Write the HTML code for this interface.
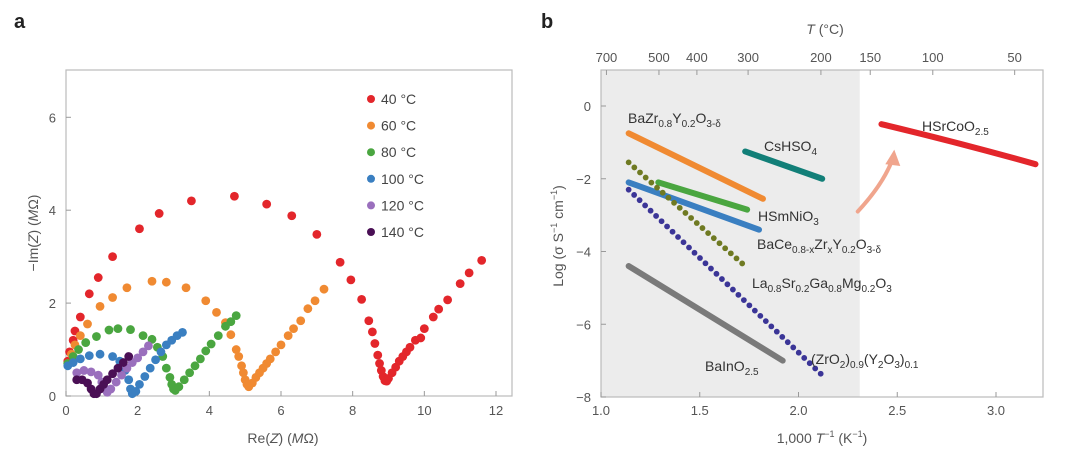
<!DOCTYPE html>
<html><head><meta charset="utf-8"><style>
html,body{margin:0;padding:0;background:#fff;}
svg{display:block;font-family:"Liberation Sans",sans-serif;}
</style></head><body>
<svg id="fig" width="1067" height="460" viewBox="0 0 1067 460">
<text x="14" y="28" font-size="20" font-weight="bold" fill="#222">a</text>
<text x="541" y="28" font-size="20" font-weight="bold" fill="#222">b</text>
<g id="pa"></g>
<g id="pb"></g>
</svg>
<script>
// ---------- Panel a data ----------
const seriesNames = ["40 °C","60 °C","80 °C","100 °C","120 °C","140 °C"];
const seriesColors = ["#e3262b","#f08a32","#4aa640","#3a7fc1","#9a6fbd","#4a0f55"];
const s40 = [[0.05,0.75],[0.1,0.95],[0.2,1.2],[0.25,1.4],[0.4,1.7],[0.65,2.2],[0.9,2.55],[1.3,3.0],[2.05,3.6],[2.6,3.93],[3.5,4.2],[4.7,4.3],[5.6,4.13],[6.3,3.88],[7.0,3.48],[7.65,2.88],[7.95,2.5],[8.25,2.08],[8.45,1.62],[8.55,1.38],[8.62,1.13],[8.7,0.88],[8.75,0.7],[8.8,0.55],[8.85,0.42],[8.9,0.33],[8.95,0.32],[9.0,0.38],[9.1,0.5],[9.2,0.62],[9.3,0.75],[9.4,0.85],[9.5,0.95],[9.6,1.05],[9.75,1.2],[9.9,1.25],[10.0,1.45],[10.25,1.7],[10.4,1.87],[10.65,2.07],[11.0,2.42],[11.25,2.65],[11.6,2.92]];
const s60 = [[0.05,0.7],[0.15,0.9],[0.25,1.1],[0.4,1.3],[0.6,1.55],[0.95,1.93],[1.3,2.12],[1.7,2.33],[2.4,2.47],[2.8,2.45],[3.35,2.33],[3.9,2.05],[4.2,1.8],[4.45,1.58],[4.6,1.32],[4.75,1.0],[4.82,0.85],[4.9,0.65],[4.95,0.5],[5.0,0.35],[5.05,0.25],[5.1,0.2],[5.2,0.28],[5.3,0.4],[5.4,0.5],[5.5,0.6],[5.6,0.7],[5.7,0.8],[5.85,0.95],[6.0,1.1],[6.2,1.3],[6.35,1.45],[6.55,1.62],[6.75,1.88],[6.95,2.05],[7.2,2.3]];
const s80 = [[0.05,0.7],[0.2,0.85],[0.35,1.0],[0.55,1.15],[0.85,1.28],[1.2,1.42],[1.45,1.45],[1.8,1.43],[2.15,1.3],[2.4,1.22],[2.55,1.05],[2.7,0.85],[2.8,0.6],[2.9,0.4],[2.95,0.25],[3.0,0.15],[3.05,0.12],[3.15,0.2],[3.3,0.35],[3.45,0.5],[3.6,0.65],[3.75,0.8],[3.9,0.97],[4.05,1.12],[4.25,1.3],[4.45,1.5],[4.6,1.6],[4.75,1.73]];
const s100 = [[0.05,0.65],[0.2,0.72],[0.4,0.8],[0.65,0.87],[0.95,0.9],[1.3,0.85],[1.5,0.75],[1.65,0.55],[1.75,0.35],[1.8,0.15],[1.85,0.05],[1.95,0.1],[2.05,0.25],[2.2,0.42],[2.35,0.6],[2.5,0.78],[2.65,0.95],[2.8,1.1],[2.95,1.2],[3.1,1.3],[3.25,1.37]];
const s120 = [[0.3,0.5],[0.5,0.55],[0.7,0.52],[0.9,0.45],[1.0,0.3],[1.08,0.15],[1.15,0.08],[1.25,0.15],[1.4,0.3],[1.55,0.45],[1.7,0.6],[1.85,0.72],[2.0,0.82],[2.15,0.95],[2.3,1.08]];
const s140 = [[0.3,0.35],[0.45,0.35],[0.6,0.28],[0.7,0.15],[0.78,0.05],[0.85,0.05],[0.95,0.15],[1.05,0.25],[1.15,0.35],[1.3,0.48],[1.45,0.6],[1.6,0.72],[1.75,0.85]];
const aXTicks = [0,2,4,6,8,10,12];
const aYTicks = [0,2,4,6];

// ---------- Panel b data ----------
const bXTicks = [1.0,1.5,2.0,2.5,3.0];
const bYTicks = [0,-2,-4,-6,-8];
const topTicksC = [700,500,400,300,200,150,100,50];
const bNames = ["BaZr","CsHSO4","HSmNiO3","BaCe","LSGM","YSZ","BaInO","HSrCoO"];
const bColors = ["#f08a32","#127f78","#4aa640","#3a7fc1","#6f7a22","#3b3597","#7a7a7a","#e3262b"];
const bStyles = ["solid","solid","solid","solid","dot","dot","solid","solid"];
const bX = [[1.14,1.82],[1.73,2.12],[1.29,1.74],[1.14,1.8],[1.14,1.74],[1.14,2.12],[1.14,1.92],[2.42,2.8,3.2]];
const bY = [[-0.75,-2.55],[-1.25,-2.0],[-2.1,-2.85],[-2.1,-3.4],[-1.55,-4.45],[-2.3,-7.4],[-4.4,-7.0],[-0.5,-1.02,-1.6]];

const NS="http://www.w3.org/2000/svg";
function mk(parent,tag,attrs){const e=document.createElementNS(NS,tag);for(const k in attrs)e.setAttribute(k,attrs[k]);parent.appendChild(e);return e;}

// ---------- Panel a ----------
const pa=document.getElementById('pa');
const ax=v=>66+v*(496-66)/12, ay=v=>396-v*(396-117.3)/6;
let r=mk(pa,'rect',{x:66,y:70,width:446,height:326,fill:'none',stroke:'#bbb','stroke-width':1.2});


aXTicks.forEach(t=>{
  mk(pa,'line',{x1:ax(t),x2:ax(t),y1:396,y2:391,stroke:'#999'});
  const tx=mk(pa,'text',{x:ax(t),y:415,'font-size':13,fill:'#555','text-anchor':'middle'});tx.textContent=t;
  
  
});
aYTicks.forEach(t=>{
  mk(pa,'line',{x1:66,x2:71,y1:ay(t),y2:ay(t),stroke:'#999'});
  const tx=mk(pa,'text',{x:56,y:ay(t)+5,'font-size':13,fill:'#555','text-anchor':'end'});tx.textContent=t;
  
  
});
let t1=mk(pa,'text',{x:283,y:443,'font-size':14,fill:'#555','text-anchor':'middle'});
t1.innerHTML='Re(<tspan font-style="italic">Z</tspan>) (<tspan font-style="italic">M</tspan>Ω)';


let t2=mk(pa,'text',{x:0,y:0,'font-size':14,fill:'#555','text-anchor':'middle',transform:'translate(38,233) rotate(-90)'});
t2.innerHTML='−Im(<tspan font-style="italic">Z</tspan>) (<tspan font-style="italic">M</tspan>Ω)';


[s40,s60,s80,s100,s120,s140].forEach((s,i)=>{
  const g=mk(pa,'g',{});
  
  
  s.forEach(p=>{const c=mk(g,'circle',{cx:ax(p[0]),cy:ay(p[1]),r:4.4,fill:seriesColors[i]});
    
    });
  const le=mk(pa,'g',{});
  
  
  const ly=99+i*26.6;
  mk(le,'circle',{cx:371,cy:ly,r:4,fill:seriesColors[i]});
  const lt=mk(le,'text',{x:381,y:ly+5,'font-size':14,fill:'#444'});lt.textContent=seriesNames[i];
});

// ---------- Panel b ----------
const pb=document.getElementById('pb');
const bx=v=>601+(v-1)*(996-601)/2, by=v=>106-v*(397-106)/8;
let sh=mk(pb,'rect',{x:601,y:70,width:bx(2.31)-601,height:327,fill:'#ececec'});


let fr=mk(pb,'rect',{x:601,y:70,width:442,height:327,fill:'none',stroke:'#bbb','stroke-width':1.2});


bXTicks.forEach(t=>{
  mk(pb,'line',{x1:bx(t),x2:bx(t),y1:397,y2:392,stroke:'#999'});
  const tx=mk(pb,'text',{x:bx(t),y:415,'font-size':13,fill:'#555','text-anchor':'middle'});tx.textContent=t.toFixed(1);
  
  
});
bYTicks.forEach(t=>{
  mk(pb,'line',{x1:601,x2:606,y1:by(t),y2:by(t),stroke:'#999'});
  const tx=mk(pb,'text',{x:591,y:by(t)+5,'font-size':13,fill:'#555','text-anchor':'end'});tx.textContent=t===0?'0':'−'+Math.abs(t);
  
  
});
topTicksC.forEach(t=>{
  const x=bx(1000/(t+273.15));
  mk(pb,'line',{x1:x,x2:x,y1:70,y2:75,stroke:'#999'});
  const tx=mk(pb,'text',{x:x,y:62,'font-size':13,fill:'#555','text-anchor':'middle'});tx.textContent=t;
  
  
});
let tt=mk(pb,'text',{x:825,y:34,'font-size':14,fill:'#555','text-anchor':'middle'});
tt.innerHTML='<tspan font-style="italic">T</tspan> (°C)';


let bt=mk(pb,'text',{x:822,y:443,'font-size':14,fill:'#555','text-anchor':'middle'});
bt.innerHTML='1,000 <tspan font-style="italic">T</tspan><tspan font-size="9" dy="-6">−1</tspan><tspan dy="6"> (K</tspan><tspan font-size="9" dy="-6">−1</tspan><tspan dy="6">)</tspan>';


let yt=mk(pb,'text',{x:0,y:0,'font-size':14,fill:'#555','text-anchor':'middle',transform:'translate(563,236) rotate(-90)'});
yt.innerHTML='Log (σ S<tspan font-size="9" dy="-6">−1</tspan><tspan dy="6"> cm</tspan><tspan font-size="9" dy="-6">−1</tspan><tspan dy="6">)</tspan>';


bNames.forEach((n,i)=>{
  const xs=bX[i], ys=bY[i];
  let d='M'+bx(xs[0])+','+by(ys[0]);
  if(xs.length===3){d+=' Q'+bx(xs[1])+','+(2*by(ys[1])-(by(ys[0])+by(ys[2]))/2)+' '+bx(xs[2])+','+by(ys[2]);}
  else d+=' L'+bx(xs[1])+','+by(ys[1]);
  let p;
  if(bStyles[i]==='dot') p=mk(pb,'path',{d:d,fill:'none',stroke:bColors[i],'stroke-width':5.8,'stroke-linecap':'round','stroke-dasharray':'0 7.6'});
  else p=mk(pb,'path',{d:d,fill:'none',stroke:bColors[i],'stroke-width':6,'stroke-linecap':'round'});
  
  
});
let ar=mk(pb,'path',{d:'M'+bx(2.3)+','+by(-2.9)+' Q'+bx(2.42)+','+by(-2.2)+' '+bx(2.47)+','+by(-1.55),fill:'none',stroke:'#f0a58d','stroke-width':4,'stroke-linecap':'round'});


let ah=mk(pb,'path',{d:'M'+(bx(2.48)-8)+','+by(-1.6)+' L'+bx(2.485)+','+by(-1.2)+' L'+(bx(2.48)+7)+','+by(-1.65)+' Z',fill:'#f0a58d'});


const S=(t)=>'<tspan font-size="10" dy="4">'+t+'</tspan><tspan dy="-4">';
const labels=[
 [628,123,'BaZr'+S('0.8')+'Y</tspan>'+S('0.2')+'O</tspan>'+S('3-δ')+'</tspan>','label-bazr'],
 [764,151,'CsHSO'+S('4')+'</tspan>','label-cshso4'],
 [758,221,'HSmNiO'+S('3')+'</tspan>','label-hsmnio3'],
 [757,249,'BaCe'+S('0.8-x')+'Zr</tspan>'+S('x')+'Y</tspan>'+S('0.2')+'O</tspan>'+S('3-δ')+'</tspan>','label-bace'],
 [752,288,'La'+S('0.8')+'Sr</tspan>'+S('0.2')+'Ga</tspan>'+S('0.8')+'Mg</tspan>'+S('0.2')+'O</tspan>'+S('3')+'</tspan>','label-lsgm'],
 [811,364,'(ZrO'+S('2')+')</tspan>'+S('0.9')+'(Y</tspan>'+S('2')+'O</tspan>'+S('3')+')</tspan>'+S('0.1')+'</tspan>','label-ysz'],
 [705,371,'BaInO'+S('2.5')+'</tspan>','label-bainO'],
 [922,131,'HSrCoO'+S('2.5')+'</tspan>','label-hsrcoo']
];
labels.forEach(l=>{
  const t=mk(pb,'text',{x:l[0],y:l[1],'font-size':14,fill:'#333'});
  t.innerHTML=l[2];
  
  
});
</script>
</body></html>
